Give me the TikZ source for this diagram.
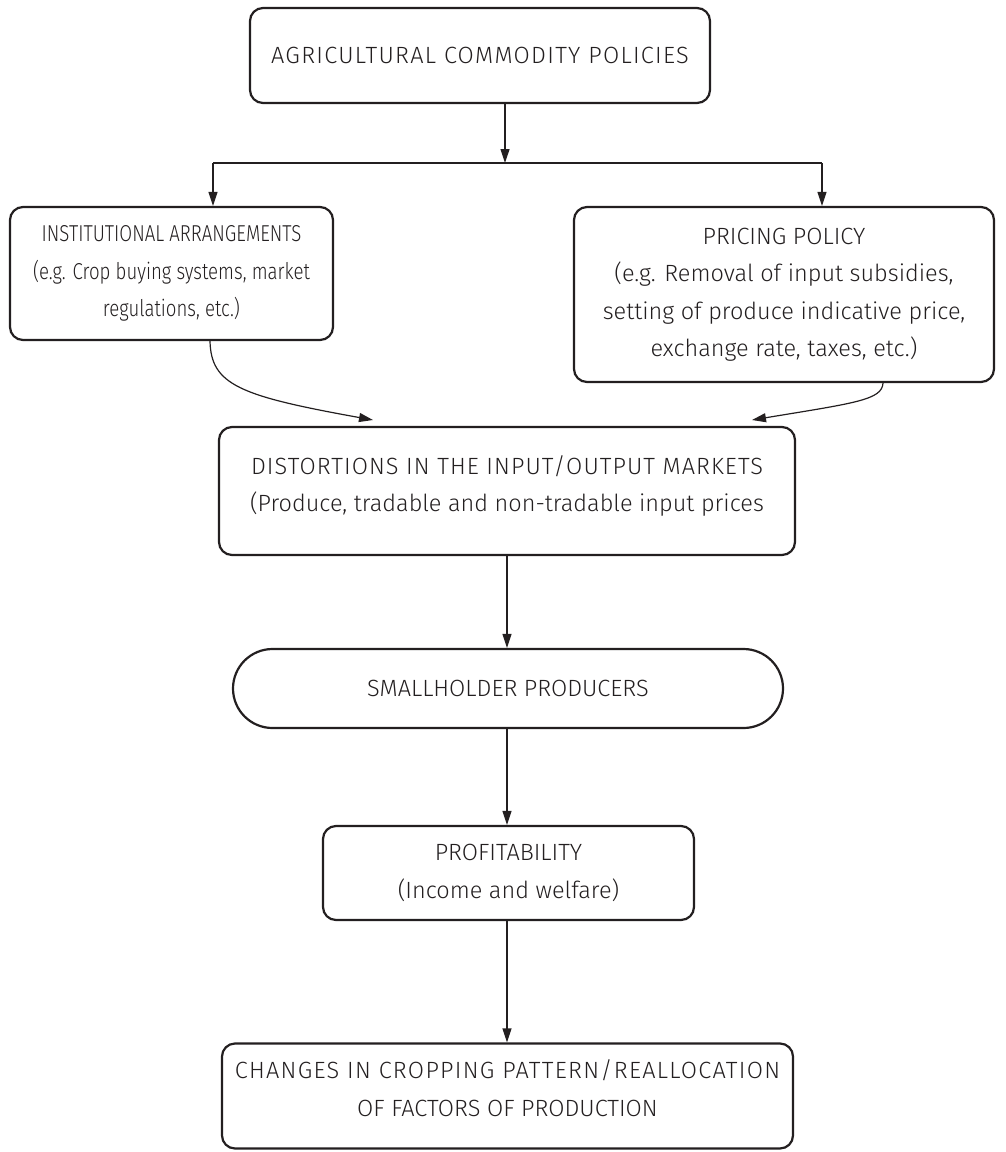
\documentclass[tikz,border=0pt]{standalone}
\usepackage{fontspec}
\setmainfont{Fira Sans}[UprightFont=* Light]
\newfontfamily\condfont{Fira Sans}[UprightFont=* Light, FakeStretch=0.81]
\newfontfamily\widecaps{Fira Sans}[UprightFont=* Light, LetterSpace=5.5]
\newfontfamily\midcaps{Fira Sans}[UprightFont=* Light, LetterSpace=4.5]
\usetikzlibrary{arrows.meta,shapes.misc}
\definecolor{ink}{HTML}{231F20}
\tikzset{
  boxshape/.style={draw=ink, line width=2.2pt, align=center, inner sep=0pt, text=ink,
    font=\fontsize{23.5}{37.5}\selectfont},
  box/.style={boxshape, rounded corners=13pt},
  pill/.style={boxshape, rounded rectangle},
  conn/.style={draw=ink, line width=1.2pt},
  arr/.style={conn, -{Triangle[length=14pt,width=9pt]}}
}
\begin{document}
\begin{tikzpicture}[x=1pt,y=-1pt]
\useasboundingbox (0,0) rectangle (1005,1152);
\node[box, minimum width=460pt, minimum height=95pt] (top) at (480,55.5)
  {\widecaps AGRICULTURAL COMMODITY POLICIES};
\node[box, minimum width=323pt, minimum height=133pt, font=\condfont\fontsize{23}{37.5}\selectfont] (inst) at (171.5,273.5)
  {INSTITUTIONAL ARRANGEMENTS\\(e.g. Crop buying systems, market\\regulations, etc.)};
\node[box, minimum width=420pt, minimum height=175pt] (price) at (784,294.5)
  {PRICING POLICY\\(e.g. Removal of input subsidies,\\setting of produce indicative price,\\exchange rate, taxes, etc.)};
\node[box, minimum width=576pt, minimum height=128pt] (dist) at (507,491) {};
\node[boxshape, draw=none] (disttext) at (507,486)
  {{\midcaps DISTORTIONS IN THE INPUT/OUTPUT MARKETS}\\(Produce, tradable and non-tradable input prices};
\node[pill, minimum width=550pt, minimum height=79pt] (small) at (508,688.5) {SMALLHOLDER PRODUCERS};
\node[box, minimum width=371pt, minimum height=94pt] (prof) at (508.5,873)
  {PROFITABILITY\\(Income and welfare)};
\node[box, minimum width=571pt, minimum height=105pt] (chg) at (507.5,1096) {};
\node[boxshape, draw=none] (chgtext) at (507.5,1088)
  {{\widecaps CHANGES IN CROPPING PATTERN/REALLOCATION}\\OF FACTORS OF PRODUCTION};

\coordinate (branch) at (505,163);
\coordinate (bl) at (213,163);
\coordinate (br) at (822,163);
\coordinate (mid) at (507,0);
\draw[arr] (top.south -| branch) -- (branch);
\draw[conn] (bl) -- (br);
\draw[arr] (bl) -- (inst.north -| bl);
\draw[arr] (br) -- (price.north -| br);

\coordinate (lstart) at (210,0);
\coordinate (ltip) at (373,420);
\coordinate (rstart) at (883,0);
\coordinate (rtip) at (752,420);
\draw[arr] (inst.south -| lstart) .. controls (211,385) and (240,396) .. (ltip);
\draw[arr] (price.south -| rstart) .. controls (882,400) and (855,403) .. (rtip);

\draw[arr] (dist.south -| mid) -- (small.north -| mid);
\draw[arr] (small.south -| mid) -- (prof.north -| mid);
\draw[arr] (prof.south -| mid) -- (chg.north -| mid);
\end{tikzpicture}
\end{document}
